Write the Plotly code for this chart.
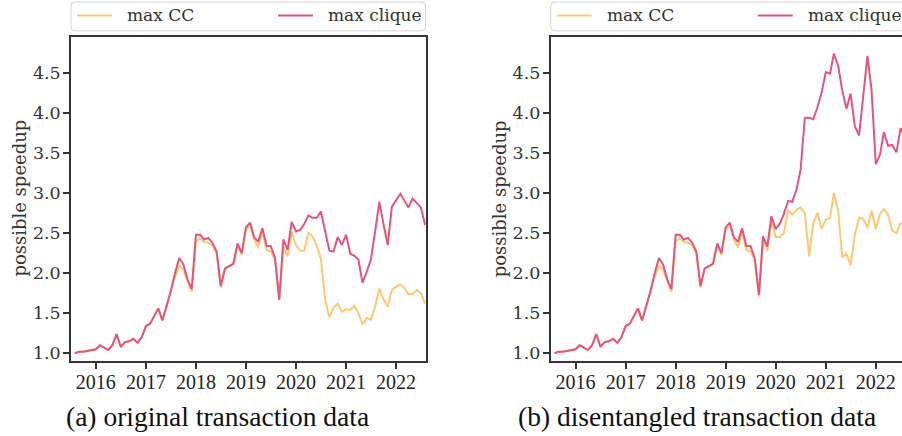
import pandas as pd
import plotly.graph_objects as go

# Monthly observations, Aug 2015 - Aug 2022
months = pd.date_range("2015-08-01", "2022-08-01", freq="MS")

# (a) original transaction data
orig_clique = [
    1.00, 1.02, 1.02, 1.03, 1.04, 1.05, 1.10, 1.07, 1.04, 1.10, 1.24, 1.08,
    1.14, 1.15, 1.18, 1.13, 1.20, 1.34, 1.37, 1.46, 1.56, 1.41, 1.59, 1.77,
    2.00, 2.19, 2.11, 1.92, 1.80, 2.48, 2.48, 2.42, 2.44, 2.38, 2.27, 1.84,
    2.06, 2.09, 2.12, 2.37, 2.25, 2.57, 2.63, 2.45, 2.39, 2.56, 2.34, 2.34,
    2.19, 1.67, 2.42, 2.29, 2.64, 2.52, 2.54, 2.61, 2.72, 2.69, 2.69, 2.77,
    2.53, 2.28, 2.27, 2.45, 2.35, 2.48, 2.24, 2.22, 2.17, 1.88, 2.02, 2.17,
    2.52, 2.89, 2.61, 2.35, 2.83, 2.91, 2.99, 2.91, 2.82, 2.93, 2.88, 2.82,
    2.60,
]
orig_cc = [
    1.00, 1.02, 1.02, 1.03, 1.04, 1.05, 1.10, 1.07, 1.04, 1.10, 1.24, 1.08,
    1.14, 1.15, 1.18, 1.13, 1.20, 1.34, 1.37, 1.46, 1.56, 1.41, 1.59, 1.77,
    1.96, 2.09, 2.05, 1.90, 1.77, 2.40, 2.43, 2.39, 2.38, 2.35, 2.25, 1.82,
    2.05, 2.08, 2.11, 2.35, 2.23, 2.54, 2.60, 2.42, 2.32, 2.52, 2.29, 2.27,
    2.17, 1.66, 2.32, 2.21, 2.52, 2.35, 2.28, 2.28, 2.50, 2.46, 2.34, 2.18,
    1.67, 1.45, 1.57, 1.62, 1.52, 1.55, 1.54, 1.59, 1.50, 1.36, 1.44, 1.42,
    1.58, 1.81, 1.67, 1.58, 1.79, 1.83, 1.86, 1.82, 1.74, 1.74, 1.79, 1.75,
    1.62,
]

# (b) disentangled transaction data
dis_clique = [
    1.00, 1.02, 1.02, 1.03, 1.04, 1.05, 1.10, 1.07, 1.04, 1.10, 1.24, 1.08,
    1.14, 1.15, 1.18, 1.13, 1.20, 1.34, 1.37, 1.46, 1.56, 1.41, 1.59, 1.77,
    2.00, 2.19, 2.11, 1.92, 1.80, 2.48, 2.48, 2.42, 2.44, 2.38, 2.27, 1.84,
    2.06, 2.09, 2.12, 2.37, 2.25, 2.57, 2.63, 2.45, 2.39, 2.56, 2.34, 2.34,
    2.19, 1.73, 2.46, 2.33, 2.71, 2.55, 2.62, 2.74, 2.90, 2.89, 3.04, 3.29,
    3.94, 3.94, 3.92, 4.07, 4.25, 4.51, 4.49, 4.74, 4.59, 4.28, 4.05, 4.24,
    3.83, 3.72, 4.23, 4.71, 4.28, 3.36, 3.48, 3.76, 3.59, 3.60, 3.51, 3.81,
    3.70,
]
dis_cc = [
    1.00, 1.02, 1.02, 1.03, 1.04, 1.05, 1.10, 1.07, 1.04, 1.10, 1.24, 1.08,
    1.14, 1.15, 1.18, 1.13, 1.20, 1.34, 1.37, 1.46, 1.56, 1.41, 1.59, 1.77,
    1.96, 2.09, 2.05, 1.90, 1.77, 2.40, 2.43, 2.39, 2.38, 2.35, 2.25, 1.82,
    2.05, 2.08, 2.11, 2.35, 2.23, 2.54, 2.60, 2.42, 2.32, 2.52, 2.29, 2.27,
    2.17, 1.71, 2.45, 2.28, 2.66, 2.45, 2.45, 2.50, 2.79, 2.73, 2.79, 2.82,
    2.75, 2.21, 2.62, 2.75, 2.55, 2.67, 2.69, 3.00, 2.78, 2.20, 2.24, 2.10,
    2.48, 2.69, 2.68, 2.57, 2.78, 2.55, 2.74, 2.80, 2.73, 2.53, 2.50, 2.62,
    2.60,
]

series_names = ["max CC", "max clique"]
series_colors = ["#fec873", "#e5547d"]
captions = ["(a) original transaction data", "(b) disentangled transaction data"]
y_ticks = [1.0, 1.5, 2.0, 2.5, 3.0, 3.5, 4.0, 4.5]
y_label = "possible speedup"

W, H = 902, 436
AX_COLOR = "#333333"
SERIF = "DejaVu Serif"
LATEX_LIKE = "Liberation Serif"

# pixel geometry of the two panels
panel_px = [(71.0, 425.7), (550.7, 902.0)]
top_px, bottom_px = 37.0, 363.3
x_start = pd.Timestamp("2015-07-04")
x_end_left = pd.Timestamp("2022-08-05")
px_per_day = (panel_px[0][1] - panel_px[0][0]) / (x_end_left - x_start).days
x_ends = [x_start + pd.Timedelta(days=(x1 - x0) / px_per_day) for x0, x1 in panel_px]


def px(x):
    return x / W


def py(y):
    return 1 - y / H


fig = go.Figure()
data_sets = [(orig_cc, orig_clique), (dis_cc, dis_clique)]
for k, (cc, clique) in enumerate(data_sets):
    sfx = "" if k == 0 else str(k + 1)
    for name, vals, col in zip(series_names, (cc, clique), series_colors):
        fig.add_trace(go.Scatter(
            x=months, y=vals, mode="lines", name=name,
            line=dict(color=col, width=2),
            xaxis="x" + sfx, yaxis="y" + sfx, showlegend=False,
        ))

layout = dict(
    width=W, height=H, margin=dict(l=0, r=0, t=0, b=0),
    paper_bgcolor="white", plot_bgcolor="white",
)
for k, (x0, x1) in enumerate(panel_px):
    sfx = "" if k == 0 else str(k + 1)
    layout["xaxis" + sfx] = dict(
        domain=[px(x0), px(x1)], range=[x_start, x_ends[k]], type="date",
        anchor="y" + sfx, showgrid=False, zeroline=False,
        showline=True, linecolor=AX_COLOR, linewidth=1.5, mirror=True,
        ticks="outside", ticklen=6, tickwidth=1.5, tickcolor=AX_COLOR,
        tick0="2016-01-01", dtick="M12", tickformat="%Y",
        ticklabelstandoff=-4,
        tickfont=dict(family=LATEX_LIKE, size=20, color="#222222"),
    )
    layout["yaxis" + sfx] = dict(
        domain=[py(bottom_px), py(top_px)], range=[0.906, 4.95],
        anchor="x" + sfx, showgrid=False, zeroline=False,
        showline=True, linecolor=AX_COLOR, linewidth=1.5, mirror=(k == 0),
        ticks="outside", ticklen=6, tickwidth=1.5, tickcolor=AX_COLOR,
        tickvals=y_ticks, tickformat=".1f",
        ticklabelstandoff=-1,
        tickfont=dict(family=SERIF, size=17.5, color=AX_COLOR),
    )
fig.update_layout(**layout)

shapes = []
annotations = []
for k, (x0, x1) in enumerate(panel_px):
    # legend box with rounded corners, spanning the panel width
    bx0, bx1 = x0, x0 + 354.5
    by0, by1 = 2.0, 31.0
    r = 4.0
    path = (
        f"M {px(bx0 + r)} {py(by0)} L {px(bx1 - r)} {py(by0)} "
        f"Q {px(bx1)} {py(by0)} {px(bx1)} {py(by0 + r)} "
        f"L {px(bx1)} {py(by1 - r)} Q {px(bx1)} {py(by1)} {px(bx1 - r)} {py(by1)} "
        f"L {px(bx0 + r)} {py(by1)} Q {px(bx0)} {py(by1)} {px(bx0)} {py(by1 - r)} "
        f"L {px(bx0)} {py(by0 + r)} Q {px(bx0)} {py(by0)} {px(bx0 + r)} {py(by0)} Z"
    )
    shapes.append(dict(type="path", xref="paper", yref="paper", path=path,
                       line=dict(color="#d4d4d4", width=1), fillcolor="white",
                       layer="above"))
    for j, (name, col) in enumerate(zip(series_names, series_colors)):
        lx = bx0 + 6 + j * 201
        shapes.append(dict(type="line", xref="paper", yref="paper",
                           x0=px(lx), x1=px(lx + 35), y0=py(15.5), y1=py(15.5),
                           line=dict(color=col, width=2), layer="above"))
        annotations.append(dict(xref="paper", yref="paper", x=px(lx + 48), y=py(15.5),
                                text=name, showarrow=False, xanchor="left",
                                yanchor="middle",
                                font=dict(family=SERIF, size=17, color=AX_COLOR)))
    # y-axis label
    annotations.append(dict(xref="paper", yref="paper", x=px(x0 - 51), y=py(200),
                            text=y_label, textangle=-90, showarrow=False,
                            xanchor="center", yanchor="middle",
                            font=dict(family=SERIF, size=18, color=AX_COLOR)))
    # sub-figure caption
    annotations.append(dict(xref="paper", yref="paper", x=px(x0 + 146), y=py(419),
                            text=captions[k], showarrow=False,
                            xanchor="center", yanchor="middle",
                            font=dict(family=LATEX_LIKE, size=27.5, color="#111111")))

fig.update_layout(shapes=shapes, annotations=annotations)
fig.write_html("out.html")
